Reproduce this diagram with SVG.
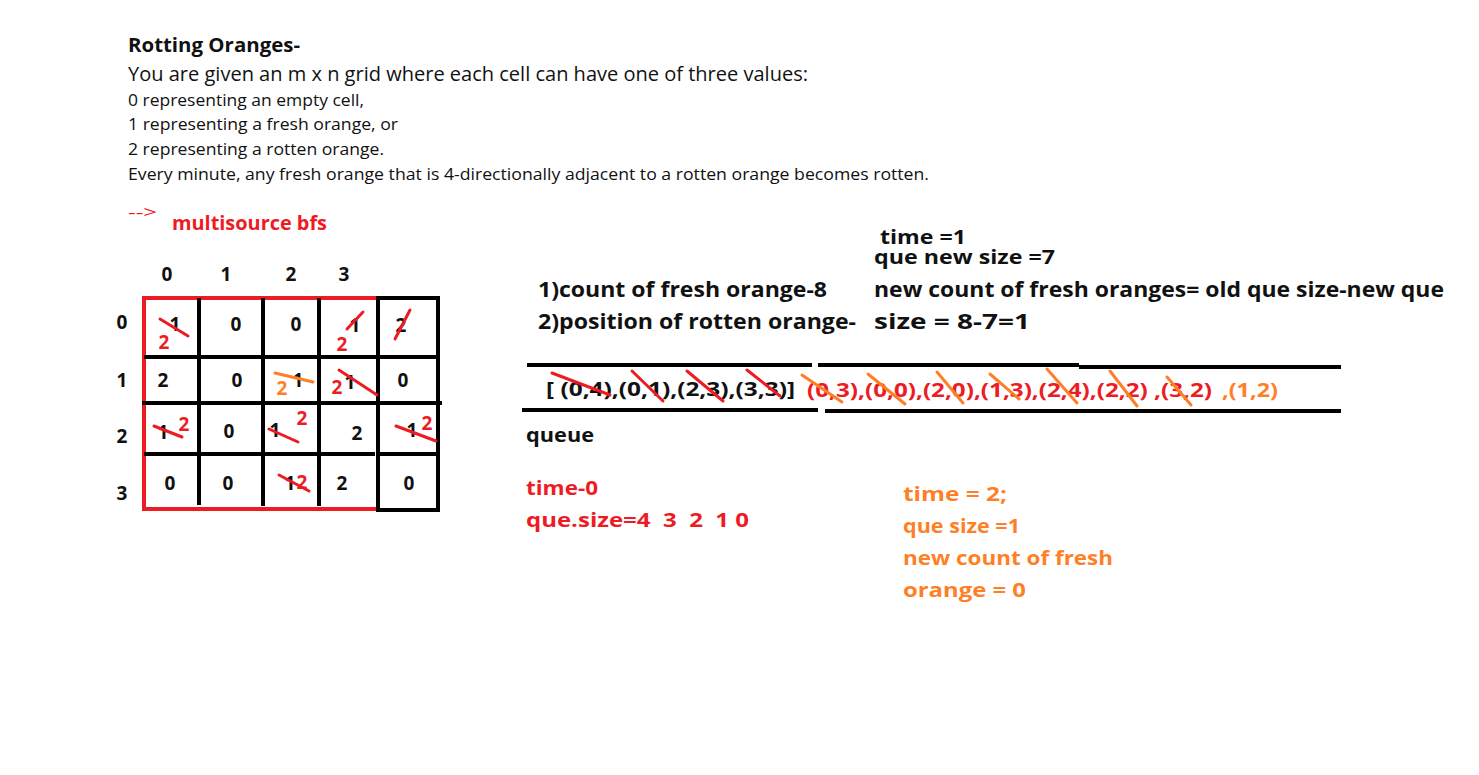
<svg xmlns="http://www.w3.org/2000/svg" width="1479" height="775" viewBox="0 0 1479 775">
<style>
text{font-family:"Open Sans","Noto Sans","Liberation Sans",sans-serif;}
.r{fill:#111;font-size:17px;}
.b{font-weight:bold;}
.red{fill:#ED1C24;}
.or{fill:#FF7F27;}
.blk{fill:#111;}
.d{font-size:19px;font-weight:bold;text-anchor:middle;fill:#111;}
.dr{font-size:19px;font-weight:bold;text-anchor:middle;fill:#ED1C24;}
.do{font-size:19px;font-weight:bold;text-anchor:middle;fill:#FF7F27;}
.gl{stroke:#000;stroke-width:4;fill:none;}
.sr{stroke:#ED1C24;stroke-width:3;stroke-linecap:round;}
.so{stroke:#FF7F27;stroke-width:3;stroke-linecap:round;}
.q{font-size:20px;font-weight:bold;}
.c{font-size:22px;font-weight:bold;fill:#111;}
.c2{font-size:20px;font-weight:bold;fill:#111;}
</style>
<rect width="1479" height="775" fill="#fff"/>

<g id="problem">
<text x="128" y="52" class="b" font-size="19" fill="#111" textLength="172" lengthAdjust="spacingAndGlyphs">Rotting Oranges-</text>
<text x="128" y="81" font-size="20" fill="#111" textLength="680" lengthAdjust="spacingAndGlyphs">You are given an m x n grid where each cell can have one of three values:</text>
<text x="128" y="106" class="r" textLength="236" lengthAdjust="spacingAndGlyphs">0 representing an empty cell,</text>
<text x="128" y="130" class="r" textLength="270" lengthAdjust="spacingAndGlyphs">1 representing a fresh orange, or</text>
<text x="128" y="155" class="r" textLength="256" lengthAdjust="spacingAndGlyphs">2 representing a rotten orange.</text>
<text x="128" y="180" class="r" textLength="801" lengthAdjust="spacingAndGlyphs">Every minute, any fresh orange that is 4-directionally adjacent to a rotten orange becomes rotten.</text>
</g>

<g id="approach">
<text x="128" y="218" font-size="16" class="red" textLength="29" lengthAdjust="spacingAndGlyphs">--&gt;</text>
<text x="172" y="230" font-size="19" class="b red" textLength="155" lengthAdjust="spacingAndGlyphs">multisource bfs</text>
</g>

<g id="grid">
<rect x="144" y="298" width="234" height="211" fill="none" stroke="#ED1C24" stroke-width="4"/>
<rect x="378" y="298" width="60" height="212" class="gl"/>
<line x1="199" y1="298" x2="199" y2="505" class="gl"/>
<line x1="263" y1="298" x2="263" y2="506" class="gl"/>
<line x1="319" y1="298" x2="319" y2="506" class="gl"/>
<line x1="144" y1="357" x2="440" y2="357" class="gl"/>
<line x1="142" y1="403" x2="442" y2="403" class="gl"/>
<line x1="144" y1="454" x2="375" y2="454" class="gl"/>
<line x1="380" y1="454" x2="440" y2="454" class="gl"/>
</g>

<g id="grid-labels">
<text x="167" y="281" class="d">0</text>
<text x="226" y="281" class="d">1</text>
<text x="291" y="281" class="d">2</text>
<text x="344" y="281" class="d">3</text>
<text x="122" y="329" class="d">0</text>
<text x="122" y="387" class="d">1</text>
<text x="122" y="443" class="d">2</text>
<text x="122" y="500" class="d">3</text>
</g>

<g id="grid-values">
<text x="175" y="331" class="d">1</text>
<text x="236" y="331" class="d">0</text>
<text x="296" y="331" class="d">0</text>
<text x="355" y="332" class="d">1</text>
<text x="401" y="332" class="d">2</text>
<text x="163" y="387" class="d">2</text>
<text x="237" y="387" class="d">0</text>
<text x="298" y="387" class="d">1</text>
<text x="350" y="389" class="d">1</text>
<text x="403" y="387" class="d">0</text>
<text x="163" y="439" class="d">1</text>
<text x="229" y="438" class="d">0</text>
<text x="275" y="437" class="d">1</text>
<text x="357" y="440" class="d">2</text>
<text x="412" y="437" class="d">1</text>
<text x="170" y="490" class="d">0</text>
<text x="228" y="490" class="d">0</text>
<text x="290" y="490" class="d">1</text>
<text x="342" y="490" class="d">2</text>
<text x="409" y="490" class="d">0</text>
</g>

<g id="grid-updates">
<line x1="160" y1="319" x2="188" y2="336" class="sr"/>
<text x="164" y="349" class="dr">2</text>
<line x1="347" y1="329" x2="363" y2="312" class="sr"/>
<text x="342" y="351" class="dr">2</text>
<line x1="395" y1="339" x2="410" y2="310" class="sr"/>
<line x1="275" y1="373" x2="313" y2="382" class="so"/>
<text x="282" y="395" class="do">2</text>
<line x1="339" y1="370" x2="377" y2="395" class="sr"/>
<text x="337" y="394" class="dr">2</text>
<line x1="154" y1="426" x2="182" y2="437" class="sr"/>
<text x="184" y="431" class="dr">2</text>
<line x1="269" y1="429" x2="298" y2="442" class="sr"/>
<text x="302" y="425" class="dr">2</text>
<line x1="396" y1="426" x2="436" y2="441" class="sr"/>
<text x="427" y="430" class="dr">2</text>
<text x="302" y="489" class="dr">2</text>
<line x1="279" y1="475" x2="309" y2="491" class="sr"/>
</g>

<g id="notes-left">
<text x="538" y="297" class="c" textLength="289" lengthAdjust="spacingAndGlyphs">1)count of fresh orange-8</text>
<text x="538" y="329" class="c" textLength="318" lengthAdjust="spacingAndGlyphs">2)position of rotten orange-</text>
</g>

<g id="notes-time1">
<text x="880" y="244" class="c2" textLength="86" lengthAdjust="spacingAndGlyphs">time =1</text>
<text x="874" y="264" class="c2" textLength="181" lengthAdjust="spacingAndGlyphs">que new size =7</text>
<text x="874" y="297" class="c" textLength="570" lengthAdjust="spacingAndGlyphs">new count of fresh oranges= old que size-new que</text>
<text x="874" y="329" class="c" textLength="156" lengthAdjust="spacingAndGlyphs">size = 8-7=1</text>
</g>

<g id="queue">
<line x1="527" y1="365" x2="812" y2="365" class="gl"/>
<line x1="818" y1="365" x2="1079" y2="365" class="gl"/>
<line x1="1079" y1="367" x2="1341" y2="367" class="gl"/>
<line x1="522" y1="410" x2="818" y2="410" class="gl"/>
<line x1="825" y1="411" x2="1341" y2="411" class="gl"/>
<text x="546" y="396" class="q blk" textLength="249" lengthAdjust="spacingAndGlyphs">[ (0,4),(0,1),(2,3),(3,3)]</text>
<text x="807" y="397" class="q red" textLength="405" lengthAdjust="spacingAndGlyphs">(0,3),(0,0),(2,0),(1,3),(2,4),(2,2) ,(3,2)</text>
<text x="1222" y="397" class="q or" textLength="56" lengthAdjust="spacingAndGlyphs">,(1,2)</text>
<line x1="552" y1="373" x2="610" y2="395" class="sr"/>
<line x1="632" y1="371" x2="663" y2="401" class="sr"/>
<line x1="687" y1="371" x2="723" y2="401" class="sr"/>
<line x1="747" y1="370" x2="780" y2="396" class="sr"/>
<line x1="802" y1="375" x2="842" y2="402" class="so"/>
<line x1="868" y1="374" x2="905" y2="404" class="so"/>
<line x1="937" y1="372" x2="963" y2="403" class="so"/>
<line x1="990" y1="374" x2="1019" y2="399" class="so"/>
<line x1="1047" y1="369" x2="1077" y2="403" class="so"/>
<line x1="1110" y1="371" x2="1137" y2="406" class="so"/>
<line x1="1167" y1="377" x2="1191" y2="405" class="so"/>
<text x="526" y="442" class="q blk" textLength="68" lengthAdjust="spacingAndGlyphs">queue</text>
</g>

<g id="notes-time0">
<text x="526" y="495" class="q red" textLength="72" lengthAdjust="spacingAndGlyphs">time-0</text>
<text x="526" y="527" class="q red" xml:space="preserve" textLength="223" lengthAdjust="spacingAndGlyphs">que.size=4  3  2  1 0</text>
</g>

<g id="notes-time2">
<text x="903" y="501" class="q or" textLength="104" lengthAdjust="spacingAndGlyphs">time = 2;</text>
<text x="903" y="533" class="q or" textLength="117" lengthAdjust="spacingAndGlyphs">que size =1</text>
<text x="903" y="565" class="q or" textLength="210" lengthAdjust="spacingAndGlyphs">new count of fresh</text>
<text x="903" y="597" class="q or" textLength="123" lengthAdjust="spacingAndGlyphs">orange = 0</text>
</g>
</svg>
